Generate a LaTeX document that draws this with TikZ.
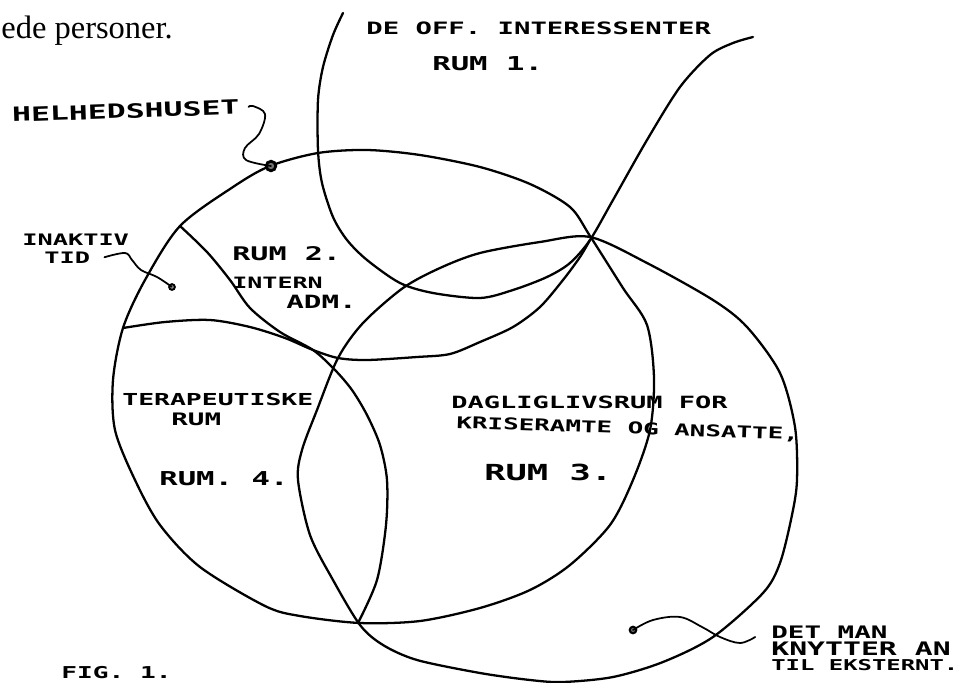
\documentclass[tikz,border=0pt]{standalone}
\usepackage{fontspec}
\newfontfamily\handfont[FakeStretch=1.6]{DejaVu Sans Mono}
\newfontfamily\scanfont{Liberation Serif}
\usetikzlibrary{positioning}
\tikzset{
  hand/.style={font=\handfont\bfseries\fontsize{#1}{#1}\selectfont,
    inner sep=0pt, anchor=base west},
  hand/.default=9.6,
  curve/.style={line width=1.3pt, line cap=round, line join=round},
  lead/.style={line width=1pt, line cap=round, line join=round},
  dot/.style={circle, draw, line width=1.2pt, inner sep=0pt, minimum size=#1},
  dot/.default=1.2mm
}

\begin{document}
\begin{tikzpicture}[x=0.02cm, y=-0.02cm]
  \useasboundingbox (0,0) rectangle (958,683);

  % helhedshuset
  \draw[curve] plot[smooth cycle, tension=0.5] coordinates {
    (367,150) (420,155) (480,167) (530,184) (570,207) (590,236) (623,288)
    (647,325) (654,378) (650,430) (633,480) (610,525) (570,565) (530,590)
    (480,608) (420,621) (360,623) (300,616) (265,606) (200,567) (160,525)
    (135,480) (115,430) (113,380) (123,328) (145,280) (180,226) (233,187)
    (270,166) (318,153)};

  % rum 3 / eksternt
  \draw[curve] plot[smooth cycle, tension=0.5] coordinates {
    (590,237) (647,263) (713,300) (747,327) (780,373) (795,427) (797,480)
    (792,515) (780,563) (763,593) (713,637) (663,662) (613,677) (563,682)
    (530,680) (480,673) (417,660) (383,645) (360,625) (333,580) (310,535)
    (298,480) (302,450) (317,410) (338,358) (363,323) (403,288) (440,268)
    (480,253) (540,242)};

  % rum 1
  \draw[curve] plot[smooth, tension=0.5] coordinates {
    (343,13) (333,35) (323,67) (318,100) (318,150) (322,183) (333,217)
    (347,240) (367,260) (400,283) (433,293) (480,298) (513,290) (547,277)
    (570,263) (590,240) (613,200) (647,140) (680,87) (710,55) (733,43)
    (753,37)};

  \draw[curve] plot[smooth, tension=0.5] coordinates {
    (123,328) (165,322) (210,320) (250,327) (285,338) (313,350) (338,358)
    (367,360) (417,357) (450,354) (480,342) (513,327) (540,307) (563,280)
    (580,257) (590,240)};

  \draw[curve] plot[smooth, tension=0.5] coordinates {
    (180,226) (207,252) (230,280) (250,308) (280,332) (313,350) (335,370)
    (352,390) (367,415) (380,445) (387,480) (386,525) (377,580) (358,623)};

  \node[font=\scanfont\fontsize{18.5}{18.5}\selectfont, inner sep=0pt,
    anchor=base west] (scan) at (1,38) {ede personer.};

  \node[hand=9.7] (offint) at (366,34) {DE OFF. INTERESSENTER};
  \node[hand=10.9] (rum1) at (432,70) {RUM 1.};

  \node[hand=11.2, rotate=2] (hel) at (12,122) {HELHEDSHUSET};
  \node[dot=1.9mm, line width=1.6pt, fill=black!55] (hdot) at (271,166) {};
  \draw[lead] plot[smooth, tension=0.6] coordinates {
    ([xshift=5pt]hel.east) (253,106) (265,114) (259,134) (245,148) (246,160)
    (hdot)};

  \node[hand=9] (inaktiv) at (22,245) {INAKTIV};
  \node[hand=9] (tid) at (44,263) {TID};
  \node[dot=1.1mm] (idot) at (172,287) {};
  \draw[lead] plot[smooth, tension=0.6] coordinates {
    ([xshift=8pt]tid.east) (125,253) (132,260) (141,270) (157,277)
    (idot)};

  \node[hand=10.7] (rum2) at (232,260) {RUM 2.};
  \node[hand=8.9] (intern) at (232,288) {INTERN};
  \node[hand=10.4] (adm) at (286,308) {ADM.};

  \node[hand=9.4] (terap) at (122,405) {TERAPEUTISKE};
  \node[hand=9.8] (terrum) at (171,425) {RUM};
  \node[hand=10.9] (rum4) at (159,485) {RUM. 4.};

  \node[hand=9.6] (daglig) at (451,408) {DAGLIGLIVSRUM FOR};
  \node[hand=9.2, rotate=-2] (krise) at (456,428) {KRISERAMTE OG ANSATTE,};
  \node[hand=12.6] (rum3) at (484,480) {RUM 3.};

  \node[hand=9.8] (ext1) at (771,638) {DET MAN};
  \node[hand=10.6] (ext2) at (771,655) {KNYTTER AN};
  \node[hand=8.5] (ext3) at (771,670) {TIL EKSTERNT.};
  \node[dot=1.3mm, fill=black!55] (edot) at (633,630) {};
  \draw[lead] plot[smooth, tension=0.6] coordinates {
    (edot) (653,620) (680,617) (702,627) (720,637) (740,643)
    ([xshift=-9pt, yshift=-3pt]ext1.west)};

  \node[hand=9.3] (fig) at (61,678) {FIG. 1.};
\end{tikzpicture}
\end{document}
